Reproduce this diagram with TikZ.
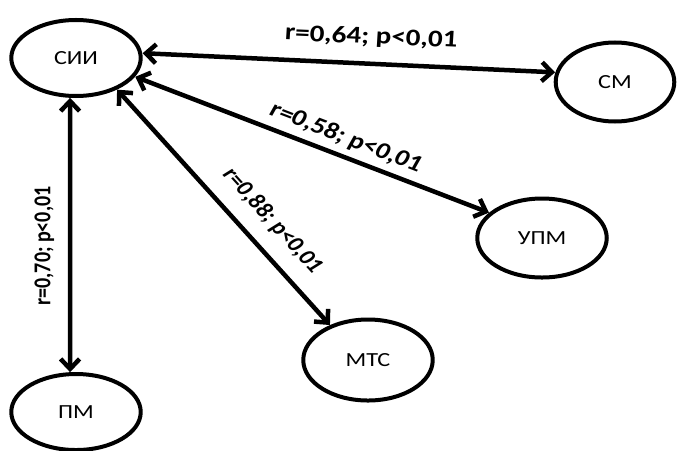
\documentclass[tikz,border=0pt]{standalone}
\usepackage{fontspec}
\setmainfont{Carlito}
\usetikzlibrary{arrows.meta,shapes.geometric}
\tikzstyle{var}=[draw=black, ellipse, line width=4pt, minimum width=107pt, minimum height=76pt, inner sep=0pt, font=\fontsize{20}{24}\selectfont]
\tikzstyle{link}=[draw=black, line width=4.5pt, {Straight Barb[length=10pt,width=19pt]}-{Straight Barb[length=10pt,width=19pt]}]
\tikzstyle{corr}=[inner sep=2pt, anchor=south]

\begin{document}
\begin{tikzpicture}[x=0.8264pt, y=1pt, xscale=1.21, transform shape]
		   \useasboundingbox (0, 0) rectangle (677, 450);
		   \node[var] (sii) at (76, 392) {СИИ};
		   \node[var, minimum width=98pt, minimum height=79pt] (sm) at (615, 368) {СМ};
		   \node[var, minimum height=79pt] (upm) at (542, 212) {УПМ};
		   \node[var, minimum height=81pt] (mts) at (368, 90) {МТС};
		   \node[var] (pm) at (76, 38) {ПМ};
		   \draw[link] (sii.5) -- node[corr, pos=0.55, rotate=-3, yshift=12pt, font=\bfseries\fontsize{24}{28}\selectfont] (l1) {r=0,64; p<0,01} (sm.169);
		   \draw[link] (sii.-21) -- node[corr, pos=0.57, rotate=-25, yshift=4pt, font=\bfseries\fontsize{23}{27}\selectfont] (l2) {r=0,58; p<0,01} (upm.150);
		   \draw[link] (sii.-43) -- node[corr, pos=0.62, rotate=-53, yshift=11pt, font=\bfseries\fontsize{21}{25}\selectfont] (l3) {r=0,88; p<0,01} (mts.132);
		   \draw[link] (pm.97) -- node[corr, pos=0.46, rotate=90, yshift=9pt, font=\bfseries\fontsize{20}{24}\selectfont] (l4) {r=0,70; p<0,01} (sii.-97);
	   \end{tikzpicture}
\end{document}
